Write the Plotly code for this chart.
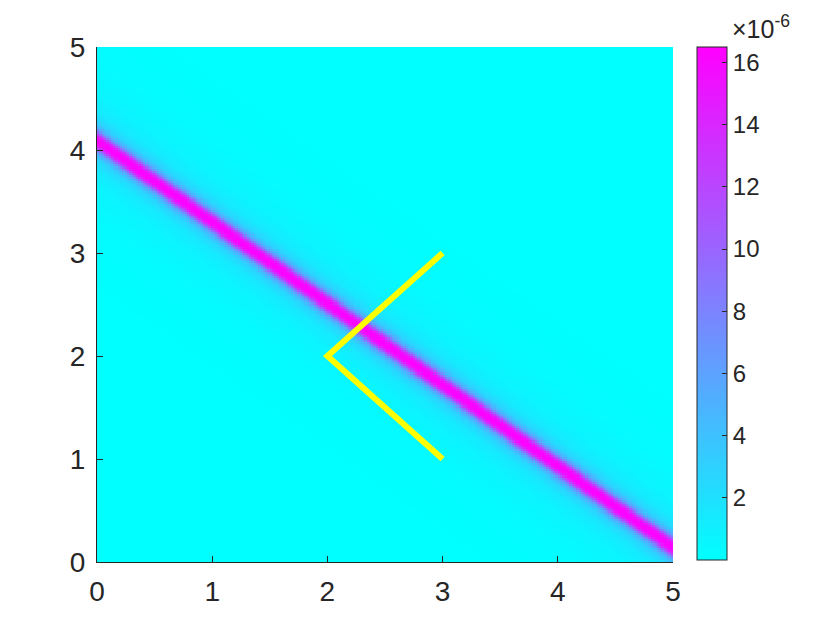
"""Ridge intensity map with a yellow bent path overlaid (cool colormap)."""
import numpy as np
import plotly.graph_objects as go

# ridge centre line: end points
ridge_x = [0.0, 5.0]
ridge_y = [4.09, 0.14]

# cross-section of the ridge: vertical offset from centre line -> value (x1e-6)
profile_offset = [-1.5, -0.8, -0.45, -0.28, -0.18, -0.12, -0.09, -0.06, -0.03, 0.0,
                  0.03, 0.06, 0.09, 0.12, 0.18, 0.28, 0.45, 0.8, 1.5]
profile_value = [0.0, 0.25, 0.7, 1.4, 2.8, 5.5, 9.0, 13.5, 16.0, 16.4,
                 16.0, 13.5, 9.0, 5.5, 2.8, 1.4, 0.7, 0.25, 0.0]

# yellow path
path_x = [3, 2, 3]
path_y = [3, 2, 1]

cbar_ticks = [2, 4, 6, 8, 10, 12, 14, 16]
axis_ticks = [0, 1, 2, 3, 4, 5]

# build the image grid from the ridge description
gx = np.linspace(0.01, 4.99, 250)
gy = np.linspace(0.01, 4.99, 250)
X, Y = np.meshgrid(gx, gy)
slope = (ridge_y[1] - ridge_y[0]) / (ridge_x[1] - ridge_x[0])
centre = ridge_y[0] + slope * (X - ridge_x[0])
Z = np.interp(Y - centre, profile_offset, profile_value) * 1e-6

FAMILY = "Liberation Sans, Arial, sans-serif"
INK = "#262626"
axis_font = dict(family=FAMILY, size=28, color=INK)
cbar_font = dict(family=FAMILY, size=24, color=INK)

fig = go.Figure()
fig.add_trace(go.Heatmap(
    x=gx, y=gy, z=Z,
    colorscale=[[0, "rgb(0,255,255)"], [1, "rgb(255,0,255)"]],
    zmin=0, zmax=16.5e-6,
    colorbar=dict(
        x=600 / 576, xanchor="left", xpad=0,
        y=1.0, yanchor="top", ypad=0,
        lenmode="pixels", len=513, thickness=30,
        outlinecolor=INK, outlinewidth=1,
        tickvals=[t * 1e-6 for t in cbar_ticks],
        ticktext=[str(t) for t in cbar_ticks],
        ticks="inside", ticklen=5, tickcolor=INK,
        tickfont=cbar_font,
    ),
    hoverinfo="skip",
))
fig.add_trace(go.Scatter(
    x=path_x, y=path_y, mode="lines",
    line=dict(color="#ffff00", width=6),
    showlegend=False,
))

fig.add_annotation(
    text="×10<sup>-6</sup>", xref="paper", yref="paper",
    x=633 / 576, y=1.0, xanchor="left", yanchor="bottom",
    showarrow=False, font=dict(family=FAMILY, size=25, color=INK),
    yshift=2,
)

axis_common = dict(
    range=[0, 5], tickvals=axis_ticks, ticks="inside", ticklen=6,
    tickcolor=INK, showline=True, linecolor=INK, linewidth=1,
    showgrid=False, zeroline=False, tickfont=axis_font, mirror=False,
)
fig.update_xaxes(ticklabelstandoff=4, **axis_common)
fig.update_yaxes(ticklabelstandoff=5, **axis_common)

# page body adds an 8px offset, so margins are trimmed to land on the reference
fig.update_layout(
    width=840, height=630,
    margin=dict(l=89, r=175, t=39, b=76),
    paper_bgcolor="white", plot_bgcolor="white",
    showlegend=False,
)

fig.write_html("out.html")
